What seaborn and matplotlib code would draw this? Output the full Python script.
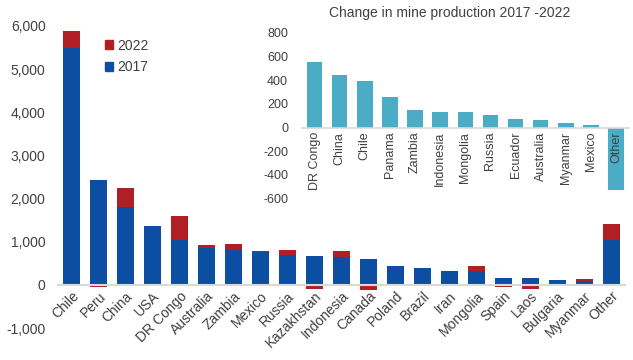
import matplotlib
matplotlib.use("Agg")
import matplotlib.pyplot as plt
import seaborn as sns
import pandas as pd
from matplotlib.patches import Patch
from matplotlib.ticker import FuncFormatter

countries = ["Chile", "Peru", "China", "USA", "DR Congo", "Australia", "Zambia", "Mexico",
             "Russia", "Kazakhstan", "Indonesia", "Canada", "Poland", "Brazil", "Iran",
             "Mongolia", "Spain", "Laos", "Bulgaria", "Myanmar", "Other"]
prod_2017 = [5500, 2420, 1810, 1370, 1050, 860, 800, 770, 690, 680, 650, 600, 430, 380, 330,
             310, 160, 150, 110, 100, 1040]
change_2022 = [390, -40, 440, -30, 550, 60, 150, 20, 110, -90, 130, -120, 0, -20, -20,
               130, -60, -90, 0, 40, 380]

inset_countries = ["DR Congo", "China", "Chile", "Panama", "Zambia", "Indonesia", "Mongolia",
                   "Russia", "Ecuador", "Australia", "Myanmar", "Mexico", "Other"]
inset_change = [550, 440, 390, 260, 150, 130, 130, 105, 75, 62, 35, 20, -525]

BLUE = "#0B4EA2"
RED = "#B01F24"
TEAL = "#4BACC6"
TXT = "#404040"
GRID = "#D9D9D9"

sns.set_theme(style="white")
plt.rcParams["font.family"] = ["Liberation Sans", "DejaVu Sans"]
plt.rcParams["text.color"] = TXT
plt.rcParams["xtick.color"] = TXT
plt.rcParams["ytick.color"] = TXT
plt.rcParams["axes.unicode_minus"] = False

df = pd.DataFrame({"country": countries, "y2017": prod_2017, "chg": change_2022})
df["red"] = [a + c if c > 0 else c for a, c in zip(df["y2017"], df["chg"])]

fig = plt.figure(figsize=(6.33, 3.6), dpi=100)
ax = fig.add_axes([58 / 633, 1 - 328 / 360, (625 - 58) / 633, (328 - 26) / 360])

sns.barplot(data=df, x="country", y="red", color=RED, saturation=1, width=0.66,
            edgecolor="none", ax=ax)
sns.barplot(data=df, x="country", y="y2017", color=BLUE, saturation=1, width=0.66,
            edgecolor="none", ax=ax)

ax.set_ylim(-1000, 6000)
ax.set_xlim(-0.5, len(countries) - 0.5)
ax.set_yticks(range(-1000, 6001, 1000))
ax.yaxis.set_major_formatter(FuncFormatter(lambda v, p: f"{int(v):,}"))
ax.tick_params(axis="y", labelsize=10, length=0, pad=9)
ax.tick_params(axis="x", labelsize=10, length=0, pad=3)
ax.set_xlabel("")
ax.set_ylabel("")
for s in ["top", "right", "left"]:
    ax.spines[s].set_visible(False)
ax.spines["bottom"].set_position(("data", 0))
ax.spines["bottom"].set_color(GRID)
ax.spines["bottom"].set_linewidth(1.5)
plt.setp(ax.get_xticklabels(), rotation=45, ha="right", rotation_mode="anchor")
ax.set_facecolor("none")

ax.legend(handles=[Patch(color=RED, label="2022"), Patch(color=BLUE, label="2017")],
          loc="upper left", bbox_to_anchor=(0.06, 1.0), frameon=False, fontsize=10,
          handlelength=0.6, handleheight=0.6, handletextpad=0.3, labelspacing=0.55)

# inset
idf = pd.DataFrame({"country": inset_countries, "chg": inset_change})
ax2 = fig.add_axes([302 / 633, 1 - 198.7 / 360, (628.6 - 302) / 633, (198.7 - 32.7) / 360])
sns.barplot(data=idf, x="country", y="chg", color=TEAL, saturation=1, width=0.62,
            edgecolor="none", ax=ax2)
ax2.set_axisbelow(False)
ax2.set_ylim(-600, 800)
ax2.set_xlim(-0.5, len(inset_countries) - 0.5)
ax2.set_yticks(range(-600, 801, 200))
ax2.tick_params(axis="y", labelsize=9, length=0, pad=10)
ax2.tick_params(axis="x", labelsize=9, length=0, pad=3)
ax2.set_xlabel("")
ax2.set_ylabel("")
for s in ["top", "right", "left"]:
    ax2.spines[s].set_visible(False)
ax2.spines["bottom"].set_position(("data", 0))
ax2.spines["bottom"].set_color(GRID)
ax2.spines["bottom"].set_linewidth(1.2)
plt.setp(ax2.get_xticklabels(), rotation=90, ha="center", va="top")
ax2.set_facecolor("none")
fig.text(450 / 633, 1 - 13 / 360, "Change in mine production 2017 -2022", ha="center",
         va="center", fontsize=10, color=TXT)

fig.savefig("out.png", dpi=100, facecolor="white")
